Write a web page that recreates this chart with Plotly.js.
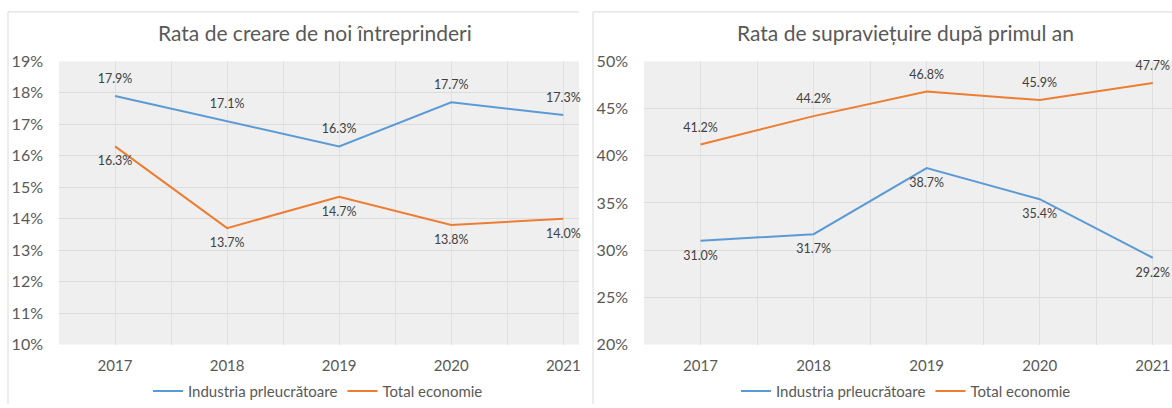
<!DOCTYPE html>
<html>
<head>
<meta charset="utf-8">
<script src="https://cdn.plot.ly/plotly-3.0.1.min.js"></script>
<style>html,body{margin:0;padding:0;background:#fff;}#chart{width:1172px;height:408px;}</style>
</head>
<body>
<div id="chart"></div>
<script>
var years = ['2017', '2018', '2019', '2020', '2021'];
var seriesNames = ['Industria prleucrătoare', 'Total economie'];
var creareIndustria = [17.9, 17.1, 16.3, 17.7, 17.3];
var creareTotal = [16.3, 13.7, 14.7, 13.8, 14.0];
var supravIndustria = [31.0, 31.7, 38.7, 35.4, 29.2];
var supravTotal = [41.2, 44.2, 46.8, 45.9, 47.7];
var titles = ['Rata de creare de noi întreprinderi', 'Rata de supraviețuire după primul an'];

var BLUE = '#5B9BD5', ORANGE = '#ED7D31';
var FONT = 'Lato, "Open Sans", sans-serif';
var W = 1172, H = 408;
var xIdx = years.map(function (_, i) { return i; });
function fmt(a) { return a.map(function (v) { return v.toFixed(1) + '%'; }); }

function lineTrace(y, name, color, xa, ya, leg) {
  return {x: xIdx, y: y, name: name, mode: 'lines', type: 'scatter',
    line: {color: color, width: 2}, xaxis: xa, yaxis: ya, legend: leg,
    hoverinfo: 'skip'};
}
function textTrace(y, pos, xa, ya) {
  return {x: xIdx, y: y, mode: 'markers+text', type: 'scatter', text: fmt(y),
    textposition: pos, cliponaxis: false, showlegend: false,
    marker: {size: 14, color: 'rgba(0,0,0,0)'},
    textfont: {family: FONT, size: 12.5, color: '#404040'},
    xaxis: xa, yaxis: ya, hoverinfo: 'skip'};
}

var data = [
  lineTrace(creareIndustria, seriesNames[0], BLUE, 'x', 'y', 'legend'),
  lineTrace(creareTotal, seriesNames[1], ORANGE, 'x', 'y', 'legend'),
  textTrace(creareIndustria, 'top center', 'x', 'y'),
  textTrace(creareTotal, 'bottom center', 'x', 'y'),
  lineTrace(supravIndustria, seriesNames[0], BLUE, 'x2', 'y2', 'legend2'),
  lineTrace(supravTotal, seriesNames[1], ORANGE, 'x2', 'y2', 'legend2'),
  textTrace(supravIndustria, 'bottom center', 'x2', 'y2'),
  textTrace(supravTotal, 'top center', 'x2', 'y2')
];

function xAxis(d0, d1, rmax, anchor) {
  return {domain: [d0 / W, d1 / W], range: [-0.5, rmax], anchor: anchor,
    tickmode: 'array', tickvals: xIdx, ticktext: years,
    showgrid: true, gridcolor: '#e0e0e0', gridwidth: 1,
    minor: {tick0: -0.5, dtick: 1, showgrid: true, gridcolor: '#e0e0e0', gridwidth: 1},
    zeroline: false, showline: false, ticks: '', ticklabelstandoff: 10,
    tickfont: {family: FONT, size: 15, color: '#595959'}, fixedrange: true};
}
var yDom = [(H - 348) / H, (H - 62) / H];
function yAxis(r, dt, anchor) {
  return {domain: yDom, range: r, dtick: dt, tick0: r[0], anchor: anchor, ticksuffix: '%',
    showgrid: true, gridcolor: '#dcdcdc', gridwidth: 1, zeroline: false, showline: false,
    ticks: '', ticklabelstandoff: 15,
    tickfont: {family: FONT, size: 16, color: '#595959'}, fixedrange: true};
}

var legFont = {family: FONT, size: 15, color: '#595959'};
var layout = {
  width: W, height: H,
  margin: {l: 0, r: 0, t: 0, b: 0},
  paper_bgcolor: '#ffffff', plot_bgcolor: '#efefef',
  showlegend: true,
  xaxis: xAxis(59, 579, 4.14, 'y'),
  yaxis: yAxis([10, 19], 1, 'x'),
  xaxis2: xAxis(644, 1172, 4.17, 'y2'),
  yaxis2: yAxis([20, 50], 5, 'x2'),
  legend: {orientation: 'h', x: 318 / W, xanchor: 'center', y: (H - 395) / H, yanchor: 'middle',
    font: legFont, itemwidth: 30, bgcolor: 'rgba(0,0,0,0)'},
  legend2: {orientation: 'h', x: 906 / W, xanchor: 'center', y: (H - 395) / H, yanchor: 'middle',
    font: legFont, itemwidth: 30, bgcolor: 'rgba(0,0,0,0)'},
  annotations: [
    {text: titles[0], xref: 'paper', yref: 'paper', x: 315 / W, y: (H - 33) / H,
     xanchor: 'center', yanchor: 'middle', showarrow: false,
     font: {family: FONT, size: 21, color: '#595959'}},
    {text: titles[1], xref: 'paper', yref: 'paper', x: 905 / W, y: (H - 33) / H,
     xanchor: 'center', yanchor: 'middle', showarrow: false,
     font: {family: FONT, size: 21, color: '#595959'}}
  ],
  shapes: [
    {type: 'line', xref: 'paper', yref: 'paper', x0: 8 / W, x1: 579 / W, y0: (H - 12) / H, y1: (H - 12) / H,
     line: {color: '#d9d9d9', width: 1}},
    {type: 'line', xref: 'paper', yref: 'paper', x0: 8 / W, x1: 8 / W, y0: 0, y1: (H - 12) / H,
     line: {color: '#d9d9d9', width: 1}},
    {type: 'line', xref: 'paper', yref: 'paper', x0: 593 / W, x1: 1, y0: (H - 12) / H, y1: (H - 12) / H,
     line: {color: '#d9d9d9', width: 1}},
    {type: 'line', xref: 'paper', yref: 'paper', x0: 593 / W, x1: 593 / W, y0: 0, y1: (H - 12) / H,
     line: {color: '#d9d9d9', width: 1}}
  ]
};

Plotly.newPlot('chart', data, layout, {staticPlot: true, displayModeBar: false});
</script>
</body>
</html>
